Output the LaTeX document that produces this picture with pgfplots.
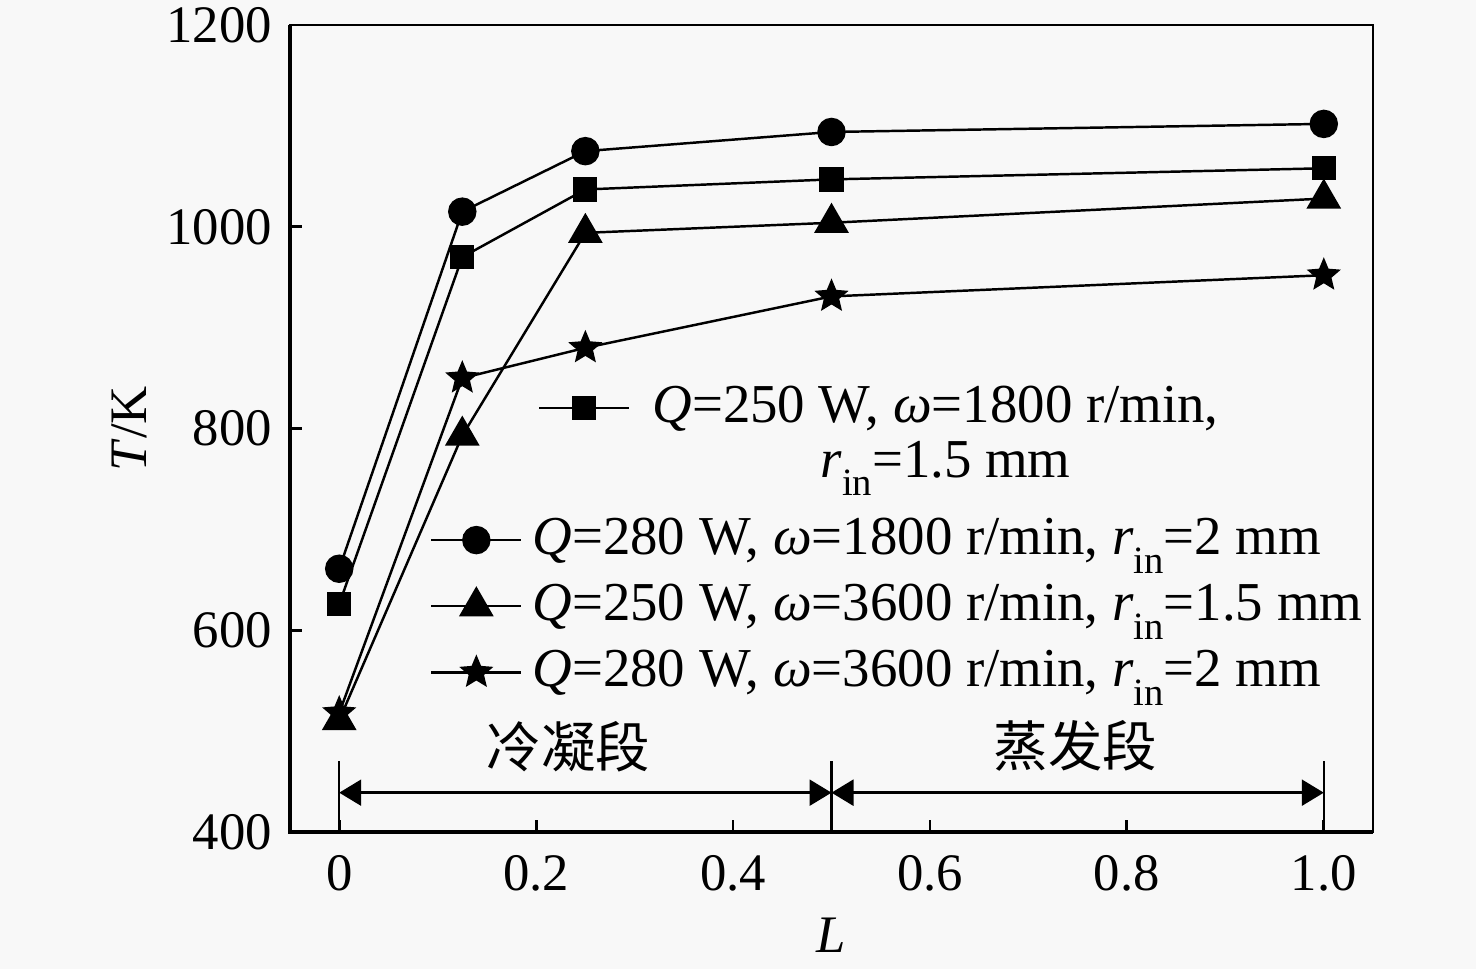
\documentclass[border=0pt]{standalone}
\usepackage{pgfplots}
\pgfplotsset{compat=1.18}
\usepackage{pgfplotstable}
\usepackage{fontspec}
\setmainfont{Liberation Serif}
\newfontfamily\cjk{Noto Sans CJK SC}
\usetikzlibrary{arrows.meta}
\definecolor{bg}{RGB}{248,248,248}
\newcommand\sub[1]{\raisebox{-0.34em}{\fontsize{11}{11}\selectfont #1}}
\newcommand\fs{\fontsize{15}{18}\selectfont}
\newcommand\lfs{\fontsize{15.6}{18}\selectfont}

\pgfdeclareplotmark{fstar}{%
  \pgfpathmoveto{\pgfpointpolar{90}{\pgfplotmarksize}}%
  \pgfpathlineto{\pgfpointpolar{126}{0.45\pgfplotmarksize}}%
  \pgfpathlineto{\pgfpointpolar{162}{\pgfplotmarksize}}%
  \pgfpathlineto{\pgfpointpolar{198}{0.45\pgfplotmarksize}}%
  \pgfpathlineto{\pgfpointpolar{234}{\pgfplotmarksize}}%
  \pgfpathlineto{\pgfpointpolar{270}{0.45\pgfplotmarksize}}%
  \pgfpathlineto{\pgfpointpolar{306}{\pgfplotmarksize}}%
  \pgfpathlineto{\pgfpointpolar{342}{0.45\pgfplotmarksize}}%
  \pgfpathlineto{\pgfpointpolar{18}{\pgfplotmarksize}}%
  \pgfpathlineto{\pgfpointpolar{54}{0.45\pgfplotmarksize}}%
  \pgfpathclose
  \pgfusepathqfillstroke}

\pgfplotsset{
  mylegend/.style={legend image code/.code={\draw[mark repeat=2,mark phase=2,##1] plot coordinates {(0cm,0cm) (0.45cm,0cm) (0.9cm,0cm)};}},
  shlegend/.style={legend image code/.code={%
    \begin{pgfinterruptboundingbox}
    \draw[mark repeat=2,mark phase=2,##1,xshift=1.08cm] plot coordinates {(0cm,0cm) (0.45cm,0cm) (0.9cm,0cm)};
    \end{pgfinterruptboundingbox}
    \path[draw=none,fill=none] (0cm,0cm) -- (0.9cm,0cm);}},
}

\pgfplotstableread{
x y
0 626
0.125 970
0.25 1037
0.5 1047
1.0 1058
}\sqdata
\pgfplotstableread{
x y
0 661
0.125 1015
0.25 1075
0.5 1094
1.0 1102
}\cidata
\pgfplotstableread{
x y
0 511
0.125 793
0.25 994
0.5 1004
1.0 1028
}\tridata
\pgfplotstableread{
x y
0 518
0.125 850
0.25 880
0.5 931
1.0 952
}\stdata

\begin{document}
\fs
\begin{tikzpicture}
\fill[bg] (-2.90,-1.37) rectangle (11.86,8.32);
\begin{axis}[
  at={(0,0)}, anchor=south west,
  scale only axis, width=10.83cm, height=8.07cm,
  xmin=-0.05, xmax=1.05, ymin=400, ymax=1200,
  xtick={0,0.2,0.4,0.6,0.8,1.0},
  xticklabels={0,0.2,0.4,0.6,0.8,1.0},
  ytick={400,600,800,1000,1200},
  tick pos=left, tick align=inside,
  major tick length=0.12cm,
  /pgf/number format/assume math mode=true,
  /pgf/number format/1000 sep={},
  ticklabel style={font=\fs},
  xticklabel style={yshift=-0.05cm},
  axis line style={line width=0.6pt},
  major tick style={line width=0.8pt, black},
  xlabel={\textit{L}}, ylabel={\textit{T}/K},
  label style={font=\fs},
  xlabel style={at={(axis description cs:0.5,-0.128)}, anchor=center},
  ylabel style={at={(axis description cs:-0.148,0.5)}, anchor=center},
  clip=false,
  legend style={draw=none, fill=none, font=\lfs, at={(axis cs:0.0916,843)}, anchor=north west,
    inner sep=0pt, row sep=6.2pt, column sep=0.1cm, nodes={inner sep=0pt}},
  legend cell align=left,
  every axis plot/.append style={line width=0.7pt, black},
  mylegend,
]
\addplot[mark=square*, mark size=3.1pt, shlegend] table[x=x,y=y] {\sqdata};
\addlegendentry{\hspace*{1.2cm}\textit{Q}=250 W, \textit{ω}=1800 r/min,}
\addlegendimage{empty legend}
\addlegendentry{\raisebox{0.11cm}[\height][\depth]{\hspace*{2.88cm}\textit{r}\sub{in}=1.5 mm}}
\addplot[mark=*, mark size=3.7pt] table[x=x,y=y] {\cidata};
\addlegendentry{\textit{Q}=280 W, \textit{ω}=1800 r/min, \textit{r}\sub{in}=2 mm}
\addplot[mark=triangle*, mark size=5pt] table[x=x,y=y] {\tridata};
\addlegendentry{\textit{Q}=250 W, \textit{ω}=3600 r/min, \textit{r}\sub{in}=1.5 mm}
\addplot[mark=fstar, mark size=4.2pt] table[x=x,y=y] {\stdata};
\addlegendentry{\textit{Q}=280 W, \textit{ω}=3600 r/min, \textit{r}\sub{in}=2 mm}

\draw[line width=1pt] (rel axis cs:0,1) -- (rel axis cs:0,0) -- (rel axis cs:1,0);
\draw[line width=0.7pt] (axis cs:0,400) -- (axis cs:0,470);
\draw[line width=0.7pt] (axis cs:0.5,400) -- (axis cs:0.5,470);
\draw[line width=0.7pt] (axis cs:1,400) -- (axis cs:1,470);
\draw[line width=0.7pt, {Triangle[length=0.22cm,width=0.26cm]}-{Triangle[length=0.22cm,width=0.26cm]}] (axis cs:0,439) -- (axis cs:0.5,439);
\draw[line width=0.7pt, {Triangle[length=0.22cm,width=0.26cm]}-{Triangle[length=0.22cm,width=0.26cm]}] (axis cs:0.5,439) -- (axis cs:1,439);
\node[font=\fontsize{15.5}{18}\selectfont\cjk, anchor=center] at (axis cs:0.233,485) {冷凝段};
\node[font=\fontsize{15.5}{18}\selectfont\cjk, anchor=center] at (axis cs:0.748,485) {蒸发段};
\end{axis}
\pgfresetboundingbox
\path (-2.90,-1.37) rectangle (11.86,8.32);
\end{tikzpicture}
\end{document}
